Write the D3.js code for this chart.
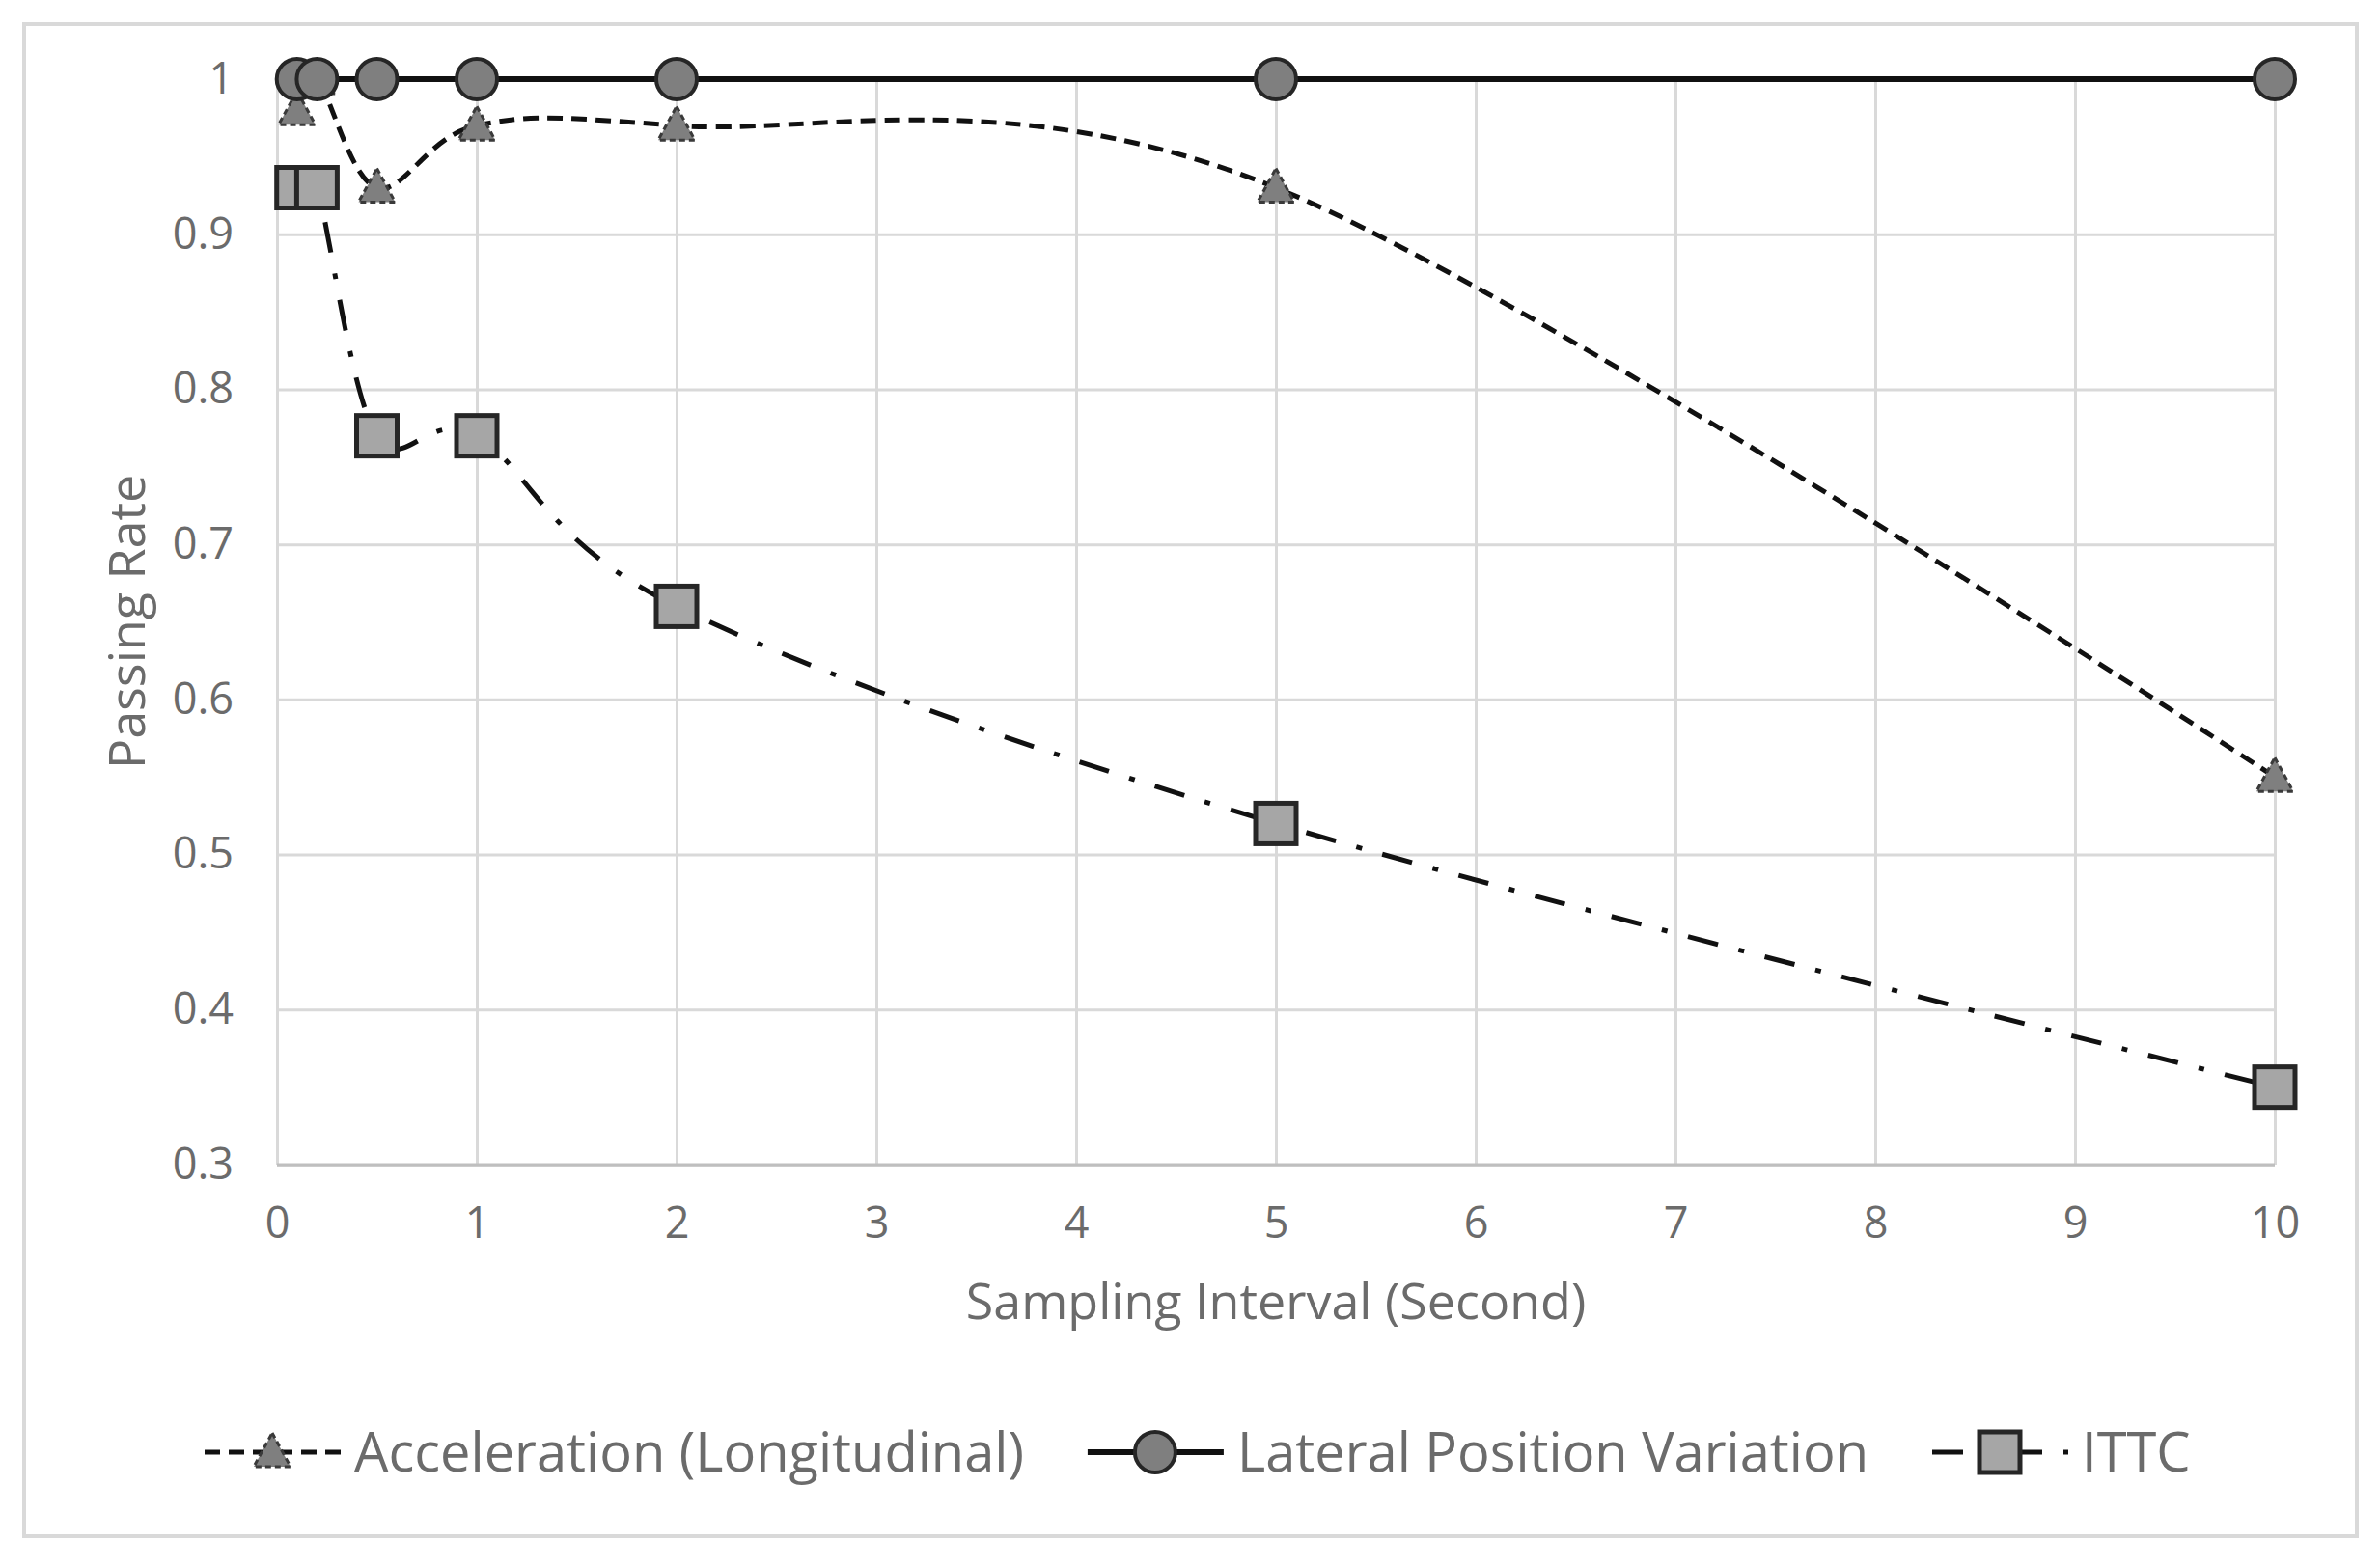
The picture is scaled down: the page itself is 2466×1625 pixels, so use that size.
<!DOCTYPE html>
<html>
<head>
<meta charset="utf-8">
<title>Passing Rate vs Sampling Interval</title>
<script src="https://d3js.org/d3.v7.min.js"></script>
<style>
  body { margin: 0; background: white; }
  text { font-family: "Open Sans", sans-serif; fill: #6b6b6b; }
</style>
</head>
<body>
<div id="chart"></div>
<script>
// data
var intervals = [0.1, 0.2, 0.5, 1, 2, 5, 10];
var accel = [0.98, 1.0, 0.93, 0.97, 0.97, 0.93, 0.55];
var lateral = [1, 1, 1, 1, 1, 1, 1];
var ittc = [0.93, 0.93, 0.77, 0.77, 0.66, 0.52, 0.35];
var xTicks = [0, 1, 2, 3, 4, 5, 6, 7, 8, 9, 10];
var yTicks = [0.3, 0.4, 0.5, 0.6, 0.7, 0.8, 0.9, 1];
var seriesNames = ["Acceleration (Longitudinal)", "Lateral Position Variation", "ITTC"];

var W = 2466, H = 1625;
// plot area (note: "top" is taken by window.top, so use other names)
var plotL = 287, plotR = 2357, plotT = 82, plotB = 1207;

var svg = d3.select("#chart").append("svg")
  .attr("width", W)
  .attr("height", H);

// outer chart border
svg.append("rect")
  .attr("x", 25).attr("y", 25)
  .attr("width", 2417).attr("height", 1567)
  .style("fill", "white")
  .style("stroke", "#d9d9d9")
  .style("stroke-width", 4);

var x = d3.scaleLinear().domain([0, 10]).range([plotL, plotR]);
var y = d3.scaleLinear().domain([0.3, 1]).range([plotB, plotT]);

// horizontal gridlines + y labels
var yAxis = svg.append("g")
  .attr("transform", "translate(" + plotL + ",0)")
  .call(d3.axisLeft(y).tickValues(yTicks).tickFormat(function(d) { return d === 1 ? "1" : d3.format(".1f")(d); })
    .tickSize(-(plotR - plotL)).tickPadding(45));
yAxis.select(".domain").remove();
yAxis.selectAll("line").style("stroke", "#d9d9d9").style("stroke-width", 3);
yAxis.selectAll("text").style("font-size", "45px").style("fill", "#6b6b6b").style("font-family", "'Open Sans', sans-serif");

// vertical gridlines + x labels
var xAxis = svg.append("g")
  .attr("transform", "translate(0," + plotB + ")")
  .call(d3.axisBottom(x).tickValues(xTicks).tickFormat(d3.format("d"))
    .tickSize(-(plotB - plotT)).tickPadding(44));
xAxis.select(".domain").remove();
xAxis.selectAll("line").style("stroke", "#d9d9d9").style("stroke-width", 3);
xAxis.selectAll("text").style("font-size", "45px").style("fill", "#6b6b6b").style("font-family", "'Open Sans', sans-serif");

// bottom axis line
svg.append("line")
  .attr("x1", plotL).attr("x2", plotR)
  .attr("y1", y(0.3)).attr("y2", y(0.3))
  .style("stroke", "#bfbfbf")
  .style("stroke-width", 3);

// axis titles
svg.append("text")
  .attr("x", (plotL + plotR) / 2)
  .attr("y", 1367)
  .attr("text-anchor", "middle")
  .style("font-size", "52px")
  .text("Sampling Interval (Second)");

svg.append("text")
  .attr("transform", "translate(150," + ((plotT + plotB) / 2) + ") rotate(-90)")
  .attr("text-anchor", "middle")
  .style("font-size", "52px")
  .text("Passing Rate");

// excel-style smoothing ~ uniform catmull-rom
var line = d3.line()
  .x(function(d) { return x(d[0]); })
  .y(function(d) { return y(d[1]); })
  .curve(d3.curveCardinal.tension(0));

function pts(vals) {
  return intervals.map(function(v, i) { return [v, vals[i]]; });
}

var styles = [
  { dash: "16,9", width: 5, marker: "triangle" },
  { dash: null, width: 6, marker: "circle" },
  { dash: "32,22,6,22", width: 5, marker: "square" }
];

function drawMarker(g, type, cx, cy) {
  if (type == "triangle") {
    g.append("path")
      .attr("d", "M" + cx + "," + (cy - 20) + " L" + (cx + 19) + "," + (cy + 15) + " L" + (cx - 19) + "," + (cy + 15) + " Z")
      .style("fill", "#7f7f7f")
      .style("stroke", "#3a3a3a")
      .style("stroke-width", 3)
      .style("stroke-dasharray", "6,4");
  } else if (type == "circle") {
    g.append("circle")
      .attr("cx", cx).attr("cy", cy).attr("r", 21)
      .style("fill", "#7f7f7f")
      .style("stroke", "#262626")
      .style("stroke-width", 4);
  } else {
    g.append("rect")
      .attr("x", cx - 21).attr("y", cy - 21)
      .attr("width", 42).attr("height", 42)
      .style("fill", "#a6a6a6")
      .style("stroke", "#262626")
      .style("stroke-width", 5);
  }
}

var allSeries = [accel, lateral, ittc];

allSeries.forEach(function(vals, i) {
  var g = svg.append("g");
  g.append("path")
    .datum(pts(vals))
    .attr("d", line)
    .style("fill", "none")
    .style("stroke", "#111")
    .style("stroke-width", styles[i].width)
    .style("stroke-dasharray", styles[i].dash);
  pts(vals).forEach(function(p) {
    drawMarker(g, styles[i].marker, x(p[0]), y(p[1]));
  });
});

// legend
var legendY = 1505;
var lx = 212;
seriesNames.forEach(function(name, i) {
  var g = svg.append("g");
  g.append("line")
    .attr("x1", lx).attr("x2", lx + 141)
    .attr("y1", legendY).attr("y2", legendY)
    .style("stroke", "#111")
    .style("stroke-width", styles[i].width)
    .style("stroke-dasharray", styles[i].dash);
  drawMarker(g, styles[i].marker, lx + 70, legendY);
  var t = g.append("text")
    .attr("x", lx + 155)
    .attr("y", legendY)
    .attr("dy", "0.36em")
    .style("font-size", "56px")
    .text(name);
  lx = lx + 155 + t.node().getComputedTextLength() + 66;
});
</script>
</body>
</html>
